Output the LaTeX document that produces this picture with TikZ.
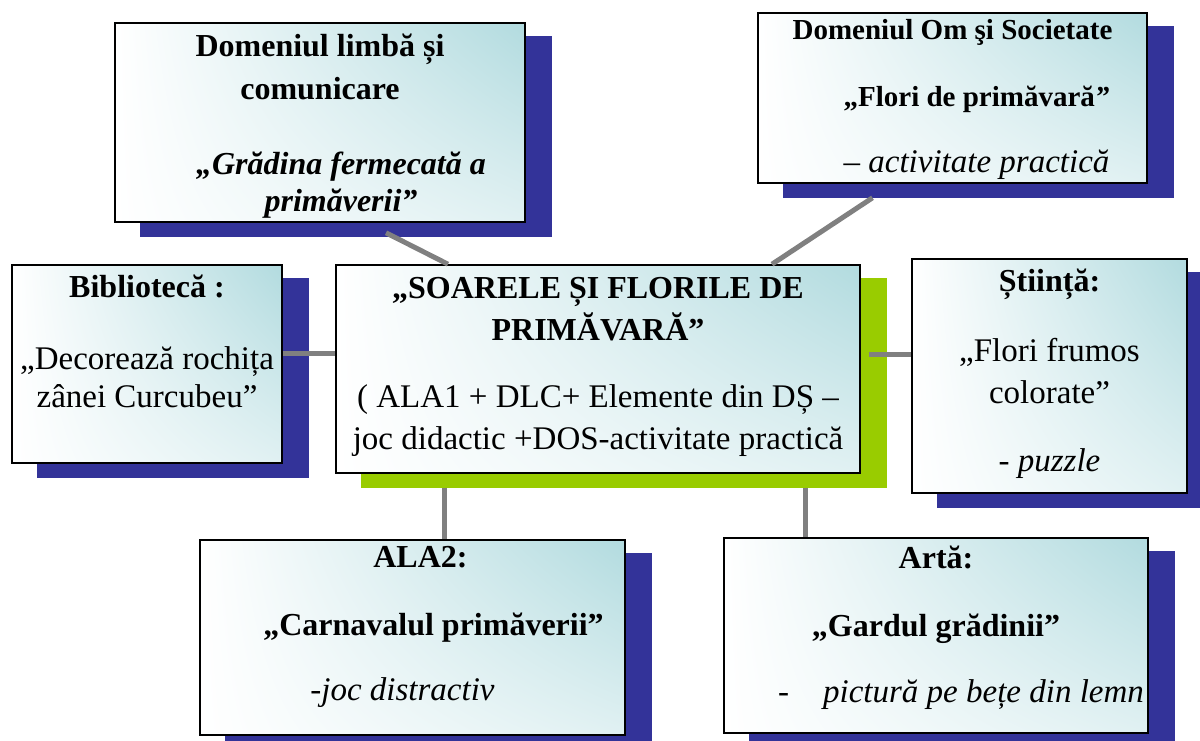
\documentclass[tikz,border=0pt]{standalone}
\usepackage{fontspec}
\setmainfont{Liberation Serif}
\usetikzlibrary{backgrounds,shadings}
\definecolor{shadowblue}{HTML}{333399}
\definecolor{leaf}{HTML}{99CC00}
\definecolor{mist}{HTML}{B2DBDF}
\definecolor{rail}{HTML}{808080}
\newcommand{\hd}[1]{{\fontsize{32}{40}\selectfont\bfseries #1}}
\newcommand{\hdsm}[1]{{\fontsize{29}{40}\selectfont\bfseries #1}}

\begin{document}
\begin{tikzpicture}[x=1pt,y=-1pt,
  box/.style={draw=black,line width=1.6pt,inner sep=0pt,upper left=white,upper right=mist,lower left=white,lower right=mist!40!white},
  txt/.style={anchor=north,align=center,inner sep=0pt,font=\fontsize{33}{40}\selectfont},
  link/.style={draw=rail,line width=5pt},
  drop/.style={fill=shadowblue}]
  \useasboundingbox (0,0) rectangle (1200,740);
  % boxes
  \node[box,minimum width=410pt,minimum height=199pt] (lim) at (320,122.5) {};
  \node[box,minimum width=389pt,minimum height=170pt] (om) at (952.5,98) {};
  \node[box,minimum width=270pt,minimum height=198pt] (bib) at (147,364) {};
  \node[box,minimum width=524pt,minimum height=208pt] (sun) at (598,369) {};
  \node[box,minimum width=275pt,minimum height=234pt] (sti) at (1049.5,376) {};
  \node[box,minimum width=425pt,minimum height=195pt] (ala) at (412.5,637.5) {};
  \node[box,minimum width=424pt,minimum height=195pt] (art) at (936,635.5) {};
  % texts
  \node[txt] (lim-t) at ([yshift=-12pt]lim.north) {\hd{Domeniul limbă și}\\[3pt] \hd{comunicare}\\[35pt]
    \hspace*{42pt}\hd{\itshape „Grădina fermecată a}\\[-3pt] \hspace*{42pt}\hd{\itshape primăverii”}};
  \node[txt] (om-t) at ([yshift=-7pt]om.north) {\hdsm{Domeniul Om şi Societate}\\[27pt]
    \hspace*{48pt}\hdsm{„Flori de primăvară\textit{”}}\\[26pt] \hspace*{48pt}– \textit{activitate practică}};
  \node[txt] (bib-t) at ([yshift=-11pt]bib.north) {\hd{Bibliotecă :}\\[32pt] „Decorează rochița\\[-2pt] zânei Curcubeu”};
  \node[txt] (sun-t) at ([yshift=-13pt]sun.north) {\hd{„SOARELE ȘI FLORILE DE}\\[2pt] \hd{PRIMĂVARĂ”}\\[27pt]
    ( ALA1 + DLC+ Elemente din DȘ –\\[2pt] joc didactic +DOS-activitate practică};
  \node[txt] (sti-t) at ([yshift=-11pt]sti.north) {\hd{Știință:}\\[30pt] „Flori frumos\\[2pt] colorate”\\[28pt] - \textit{puzzle}};
  \node[txt] (ala-t) at ([yshift=-7pt]ala.north) {\hspace*{16pt}\hd{ALA2:}\\[28pt]
    \hspace*{42pt}\hd{„Carnavalul primăverii”}\\[25pt] \textit{-joc distractiv}\hspace*{20pt}};
  \node[txt] (art-t) at ([yshift=-9pt]art.north) {\hd{Artă:}\\[28pt] \hd{„Gardul grădinii”}\\[26pt]
    \hspace*{50pt}-\hspace{34pt}\textit{pictură pe bețe din lemn}};
  % links
  \draw[link] ([xshift=66pt,yshift=-10pt]lim.south) -- ([xshift=-150pt]sun.north);
  \draw[link] ([xshift=-80pt,yshift=-14pt]om.south) -- ([xshift=174pt]sun.north);
  \draw[link] ([yshift=11pt]bib.east) -- ([yshift=16pt]sun.west);
  \draw[link] ([xshift=8pt,yshift=15pt]sun.east) -- ([yshift=22pt]sti.west);
  \draw[link] ([xshift=-154pt,yshift=-14pt]sun.south) -- ([xshift=31.5pt]ala.north);
  \draw[link] ([xshift=207pt,yshift=-14pt]sun.south) -- ([xshift=-131pt]art.north);
  \begin{scope}[on background layer]
    \foreach \n in {lim,om,bib,sti,ala,art}
      \fill[drop] ([shift={(26pt,-14pt)}]\n.south west) rectangle ([shift={(26pt,-14pt)}]\n.north east);
    \fill[leaf] ([shift={(26pt,-14pt)}]sun.south west) rectangle ([shift={(26pt,-14pt)}]sun.north east);
  \end{scope}
\end{tikzpicture}
\end{document}
